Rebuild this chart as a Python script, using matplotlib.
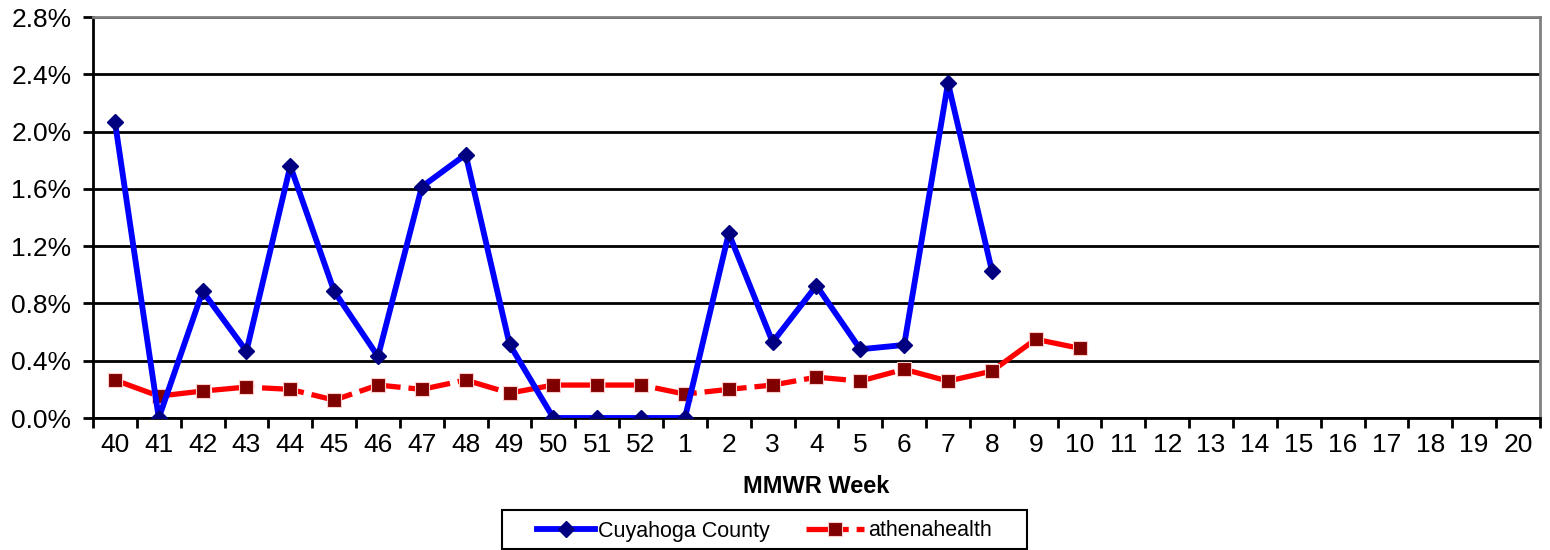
import matplotlib
matplotlib.use('Agg')
import matplotlib.pyplot as plt
from matplotlib.ticker import FixedLocator, FuncFormatter
from matplotlib.patches import Rectangle
import numpy as np

plt.rcParams['font.family'] = ['Liberation Sans', 'DejaVu Sans']

weeks = ['40', '41', '42', '43', '44', '45', '46', '47', '48', '49', '50', '51', '52',
         '1', '2', '3', '4', '5', '6', '7', '8', '9', '10', '11', '12', '13', '14',
         '15', '16', '17', '18', '19', '20']

# percent values
cuyahoga = [2.07, 0.0, 0.885, 0.467, 1.76, 0.885, 0.43, 1.615, 1.84, 0.515,
            0.0, 0.0, 0.0, 0.0, 1.29, 0.53, 0.925, 0.48, 0.51, 2.34, 1.03]
athena = [0.265, 0.153, 0.188, 0.216, 0.2, 0.125, 0.23, 0.2, 0.265, 0.174,
          0.23, 0.23, 0.23, 0.167, 0.2, 0.23, 0.285, 0.258, 0.34, 0.258, 0.327,
          0.55, 0.487]

fig = plt.figure(figsize=(15.5, 5.5), dpi=100)
ax = fig.add_axes([0.06, 0.24, 0.9335, 0.729])

x = np.arange(len(weeks))
ax.plot(x[:len(cuyahoga)], cuyahoga, color='#0000ff', lw=4.2, marker='D',
        ms=8.5, mfc='#000080', mec='#000080', label='Cuyahoga County', zorder=4)
ax.plot(x[:len(athena)], athena, color='#ff0000', lw=3.8, ls=(0, (8, 1.5)),
        marker='s', ms=10, mfc='#800000', mec='#ffcccc', mew=0.8,
        label='athenahealth', zorder=3)

ax.set_xlim(-0.5, len(weeks) - 0.5)
ax.set_ylim(0, 2.8)
ax.set_yticks(np.arange(0, 2.81, 0.4))
ax.yaxis.set_major_formatter(FuncFormatter(lambda v, p: f'{v:.1f}%'))
ax.grid(axis='y', color='black', lw=2)
ax.set_axisbelow(True)

ax.set_xticks(x)
ax.set_xticklabels(weeks)
ax.xaxis.set_minor_locator(FixedLocator(np.arange(-0.5, len(weeks), 1)))
ax.tick_params(axis='x', which='major', length=0, labelsize=19, pad=11)
ax.tick_params(axis='x', which='minor', length=7.5, width=2, direction='out')
ax.tick_params(axis='y', length=7.5, width=2, direction='out', labelsize=19, pad=8)

for s in ['left', 'bottom']:
    ax.spines[s].set_color('black')
    ax.spines[s].set_linewidth(2)
for s in ['top', 'right']:
    ax.spines[s].set_color('#808080')
    ax.spines[s].set_linewidth(2)

ax.set_xlabel('MMWR Week', fontsize=17, fontweight='bold', labelpad=13)

# legend box drawn by hand so its padding can match the original
fig.patches.append(Rectangle((502 / 1550, 1 - 549 / 550), 525 / 1550, 39 / 550,
                             transform=fig.transFigure, fill=False,
                             edgecolor='black', lw=1.5))
fig.legend(loc='center', bbox_to_anchor=(764 / 1550, 1 - 531 / 550, 0.0, 0.0), ncol=2,
           fontsize=15.5, frameon=False, handlelength=2.7, handletextpad=0.15,
           columnspacing=1.7, borderpad=0)

fig.savefig('out.png', dpi=100)
